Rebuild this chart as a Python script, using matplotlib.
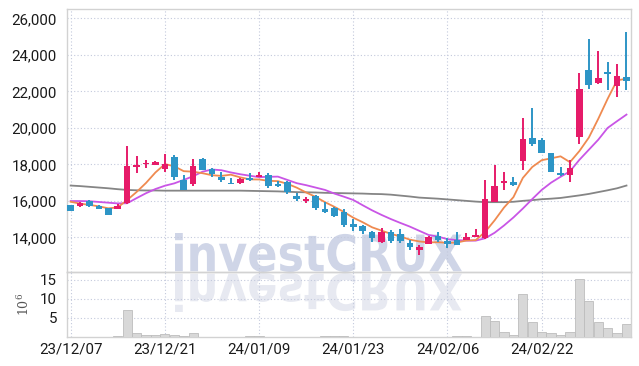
import matplotlib
matplotlib.use("Agg")
import matplotlib.pyplot as plt
from matplotlib.textpath import TextPath
from matplotlib.font_manager import FontProperties
from matplotlib.patches import PathPatch
from matplotlib.transforms import Affine2D, IdentityTransform

dates = ["23/12/07","23/12/08","23/12/11","23/12/12","23/12/13","23/12/14","23/12/15","23/12/18","23/12/19","23/12/20",
         "23/12/21","23/12/22","23/12/26","23/12/27","23/12/28","24/01/02","24/01/03","24/01/04","24/01/05","24/01/08",
         "24/01/09","24/01/10","24/01/11","24/01/12","24/01/15","24/01/16","24/01/17","24/01/18","24/01/19","24/01/22",
         "24/01/23","24/01/24","24/01/25","24/01/26","24/01/29","24/01/30","24/01/31","24/02/01","24/02/02","24/02/05",
         "24/02/06","24/02/07","24/02/08","24/02/13","24/02/14","24/02/15","24/02/16","24/02/19","24/02/20","24/02/21",
         "24/02/22","24/02/23","24/02/26","24/02/27","24/02/28","24/02/29","24/03/04","24/03/05","24/03/06","24/03/07"]

opens  = [15750,15720,16000,15720,15600,15580,15870,17880,18000,17990,
          17760,18380,17150,16930,18300,17740,17300,17000,17000,17260,
          17330,17440,16930,17040,16270,16020,16270,15560,15600,15410,
          14740,14630,14280,13730,14280,14190,13710,13310,13640,14080,
          13820,13860,13860,14010,13950,15960,17000,17030,18160,19440,
          19350,18620,17520,17440,19500,23190,22460,23040,22280,22770]
highs  = [15800,15950,16040,15800,15620,15850,19020,18470,18250,18200,
          18560,18540,17400,18320,18330,17810,17610,17250,17280,17520,
          17610,17550,17100,17100,16420,16200,16330,15960,15690,15550,
          15000,14700,14370,14500,14400,14450,13860,13600,14080,14300,
          13950,14320,14240,14450,17150,17980,17610,17300,20540,21090,
          19450,18650,17880,18250,23010,24880,24200,23610,23520,25280]
lows   = [15450,15650,15690,15550,15220,15550,15820,17550,17780,17950,
          17600,17170,16580,16820,17680,17330,17060,16920,16950,17080,
          17290,16680,16770,16370,16020,15870,15520,15320,15130,14590,
          14350,14200,13770,13710,13700,13700,13310,13040,13630,13720,
          13400,13580,13860,14000,13900,15960,16600,16810,17700,19000,
          18600,17610,17370,17060,19130,22130,22420,22100,21690,22060]
closes = [15470,15910,15740,15580,15250,15740,17920,17950,18060,18120,
          18030,17330,16600,17920,17700,17480,17150,16930,17190,17150,
          17440,16790,16840,16460,16090,16110,15600,15380,15190,14680,
          14540,14350,13990,14280,13800,13820,13490,13490,14010,13860,
          13640,13580,14040,14130,16110,16790,17100,16890,19400,19110,
          18650,17610,17440,17800,22150,22330,22750,22950,22860,22590]

ma_short = [15950,15850,15780,15700,15590,15644,16046,16488,16984,17558,
            18016,17898,17628,17600,17516,17406,17370,17436,17290,17180,
            17172,17100,17082,16936,16724,16458,16220,15928,15674,15392,
            15078,14828,14550,14368,14192,14048,13876,13776,13722,13734,
            13698,13716,13826,13850,14300,14930,15634,16204,17258,17858,
            18230,18332,18442,18122,18730,19466,20494,21596,22608,22696]
ma_mid = [15990,15990,15980,15940,15900,15860,15870,16150,16420,16650,
          16830,16960,17150,17350,17600,17720,17680,17560,17460,17380,
          17300,17320,17330,17150,16970,16860,16730,16600,16400,16230,
          16050,15760,15480,15230,15000,14790,14590,14360,14130,14040,
          13900,13850,13820,13820,13950,14250,14650,15090,15580,16100,
          16600,17000,17320,17620,18250,18800,19350,20000,20370,20730]
ma_long = [16840,16810,16770,16730,16690,16640,16600,16580,16570,16570,
           16560,16560,16560,16560,16560,16560,16560,16560,16560,16550,
           16540,16530,16520,16500,16480,16470,16460,16440,16430,16420,
           16410,16400,16380,16370,16340,16290,16240,16180,16150,16120,
           16080,16040,16000,15960,15930,15930,15930,15950,16000,16040,
           16090,16120,16160,16230,16300,16380,16480,16580,16690,16840]
volumes = [0.05,0.05,0.05,0.05,0.05,0.2,7.0,1.0,0.4,0.4,
           0.7,0.4,0.15,1.0,0.1,0.1,0.1,0.1,0.1,0.15,
           0.15,0.1,0.1,0.1,0.1,0.1,0.1,0.15,0.15,0.15,
           0.1,0.1,0.1,0.1,0.1,0.1,0.1,0.1,0.1,0.1,
           0.1,0.2,0.2,0.1,5.6,4.1,1.2,0.4,11.2,4.05,
           1.2,0.95,0.4,1.2,15.1,9.5,4.05,2.25,0.95,3.5]

UP = "#e61b69"
DOWN = "#2d95c6"
GRID = "#c3c9dc"
SPINE = "#d2d2d2"
FONT = ["Liberation Sans Narrow", "Roboto", "DejaVu Sans"]

fig = plt.figure(figsize=(6.39, 3.66), dpi=100)
fig.patch.set_facecolor("white")
W, H = 639, 366
left, right = 66.7 / W, 631 / W
ax = fig.add_axes([left, 1 - 272 / H, right - left, (272 - 9) / H])
axv = fig.add_axes([left, 1 - 337 / H, right - left, (337 - 272) / H], sharex=ax)
for a in (ax, axv):
    a.set_facecolor("none")
    for s in a.spines.values():
        s.set_color(SPINE)
        s.set_linewidth(1.0)
    a.tick_params(length=0, labelsize=10.8, colors="#1a1a1a")
    a.grid(True, color=GRID, linestyle=(0, (1, 2)), linewidth=0.8)
    a.set_axisbelow(True)

# watermark (text + reflection)
fp = FontProperties(family="DejaVu Sans", weight="bold")
tp = TextPath((0, 0), "investCRUX", size=100, prop=fp)
ext = tp.get_extents()
x0, x1 = 175, 462
ytop, ybase = 233, 272
sx = (x1 - x0) / ext.width
sy = (ybase - ytop) / ext.height
tr = Affine2D().translate(-ext.x0, -ext.y0).scale(sx, sy).translate(x0, H - ybase)
p1 = PathPatch(tr.transform_path(tp), facecolor="#cfd5e7", edgecolor="none",
               transform=IdentityTransform(), zorder=-5)
tr2 = Affine2D().translate(-ext.x0, -ext.y0).scale(sx, -sy).translate(x0, H - ybase - 1)
p2 = PathPatch(tr2.transform_path(tp), facecolor="#e7e9f1", edgecolor="none",
               transform=IdentityTransform(), zorder=-5)
fig.add_artist(p1)
fig.add_artist(p2)

idx = list(range(len(dates)))

# moving averages
ax.plot(idx, ma_long, color="#858585", lw=1.3, zorder=2)
ax.plot(idx, ma_mid, color="#c955e6", lw=1.3, zorder=2)
ax.plot(idx, ma_short, color="#ef8a50", lw=1.3, zorder=2)

# candles
cols = [UP if c >= o else DOWN for o, c in zip(opens, closes)]
ax.vlines(idx, lows, highs, colors=cols, linewidth=1.4, zorder=3)
bottoms = [min(o, c) for o, c in zip(opens, closes)]
heights = [max(abs(c - o), 60) for o, c in zip(opens, closes)]
ax.bar(idx, heights, bottom=bottoms, width=0.7, color=cols, linewidth=0, zorder=4)

# volume
axv.bar(idx, volumes, width=0.98, color="#d8d8d8", edgecolor="#bdbdbd", linewidth=0.6, zorder=3)

ax.set_xlim(-0.42, 59.48)
ax.set_ylim(12100, 26520)
yt = [14000, 16000, 18000, 20000, 22000, 24000, 26000]
ax.set_yticks(yt)
ax.set_yticklabels([f"{v:,}" for v in yt], family=FONT)
tick_pos = idx[::10]
ax.set_xticks(tick_pos)
plt.setp(ax.get_xticklabels(), visible=False)

axv.set_ylim(0, 17)
axv.set_yticks([5, 10, 15])
axv.set_yticklabels(["5", "10", "15"], family=FONT)
axv.set_xticks(tick_pos)
axv.set_xticklabels([dates[i] for i in tick_pos], family=FONT)
axv.tick_params(axis="y", pad=7)
ax.tick_params(axis="y", pad=7)
axv.tick_params(axis="x", pad=4)
axv.set_ylabel("$10^6$", fontsize=9, color="#555555", math_fontfamily="dejavuserif")
axv.yaxis.set_label_coords(-0.062, 0.5)

fig.savefig("out.png", dpi=100)
